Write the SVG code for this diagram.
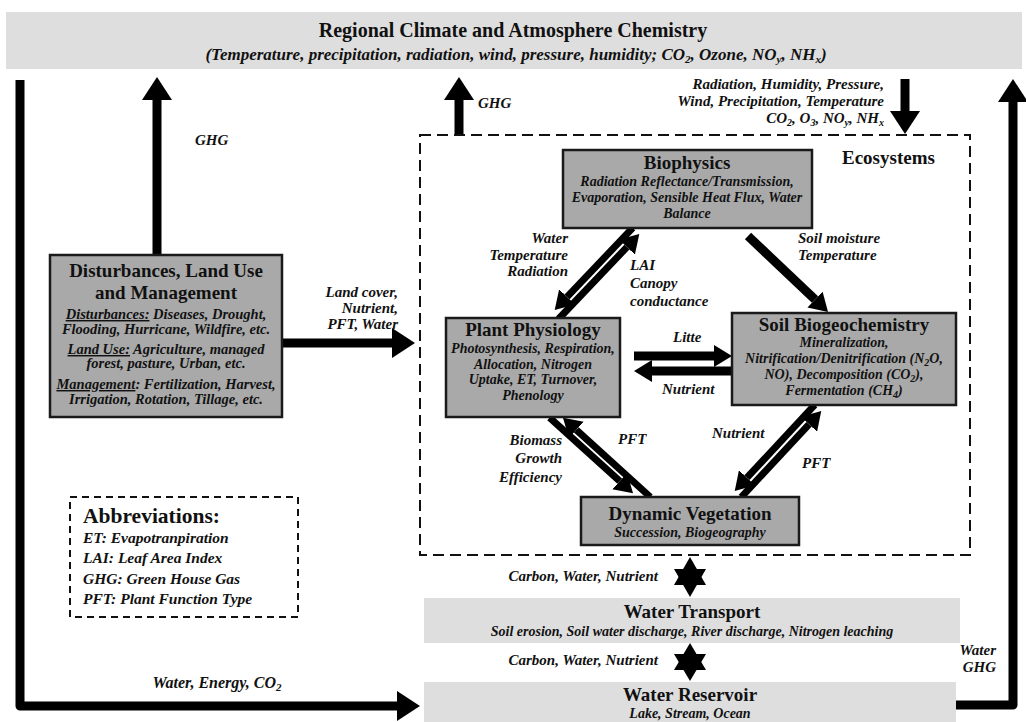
<svg xmlns="http://www.w3.org/2000/svg" width="1026" height="722" viewBox="0 0 1026 722" font-family="Liberation Serif, Times New Roman, Times, serif">
<style>
.t{font-weight:bold;fill:#111}
.i{font-style:italic}
.h{font-size:19px}
.b{font-size:14px}
.l{font-size:15px}
.box{fill:#a9a9a9;stroke:#1a1a1a;stroke-width:2.5}
.band{fill:#dedede}
.sh{stroke:#000;fill:none;stroke-width:9}
.sm{stroke:#000;fill:none;stroke-width:7}
.dash{fill:none;stroke:#111;stroke-width:2}
</style>
<defs>
<marker id="big" markerUnits="userSpaceOnUse" viewBox="0 -15 23 30" markerWidth="23" markerHeight="30" refX="0" refY="0" orient="auto"><path d="M0,-15L23,0L0,15z" fill="#000"/></marker>
<marker id="small" markerUnits="userSpaceOnUse" viewBox="0 -11 18 22" markerWidth="18" markerHeight="22" refX="0" refY="0" orient="auto"><path d="M0,-11L18,0L0,11z" fill="#000"/></marker>
</defs>
<rect width="1026" height="722" fill="#fff"/>

<g id="connectors">
<path class="sh" d="M20,80V706H397" stroke-linejoin="round" marker-end="url(#big)"/>
<path class="sh" d="M157,255V100" marker-end="url(#big)"/>
<path class="sh" d="M282,343H392" marker-end="url(#big)"/>
<path class="sh" d="M459,135V100" marker-end="url(#big)"/>
<path class="sh" d="M905,79V111" marker-end="url(#big)"/>
<path class="sh" d="M950,705H1013V102" stroke-linejoin="round" marker-end="url(#big)"/>
<path class="sh" d="M748,236L815,299.6" stroke-width="10" marker-end="url(#small)"/>
<path class="sm" d="M632.7,227.9L567.1,296.9" marker-end="url(#small)"/>
<path class="sm" d="M558.5,319L626.9,247.1" marker-end="url(#small)"/>
<path class="sm" d="M549.6,417.6L619.7,481.2" marker-end="url(#small)"/>
<path class="sm" d="M650.3,497L576.3,429.8" marker-end="url(#small)"/>
<path class="sm" d="M814.7,404.9L747,477.7" marker-end="url(#small)"/>
<path class="sm" d="M741.3,497.1L809,424.3" marker-end="url(#small)"/>
<path class="sh" d="M634,356H714" stroke-width="8" marker-end="url(#small)"/>
<path class="sh" d="M732,371H652" stroke-width="8" marker-end="url(#small)"/>
<polygon points="690,557 706,585 674,585" fill="#000"/>
<polygon points="690,597 706,569 674,569" fill="#000"/>
<polygon points="690,643 706,670 674,670" fill="#000"/>
<polygon points="690,681 706,654 674,654" fill="#000"/>
</g>

<g id="labels">
<text class="t i l" x="195" y="145">GHG</text>
<text class="t i l" x="478" y="108">GHG</text>
<g class="t i l" text-anchor="end">
<text x="884" y="89">Radiation, Humidity, Pressure,</text>
<text x="884" y="106">Wind, Precipitation, Temperature</text>
<text x="884" y="123">CO<tspan font-size="10" dy="3">2</tspan><tspan dy="-3">, O</tspan><tspan font-size="10" dy="3">3</tspan><tspan dy="-3">, NO</tspan><tspan font-size="10" dy="3">y</tspan><tspan dy="-3">, NH</tspan><tspan font-size="10" dy="3">x</tspan></text>
<text x="398" y="297">Land cover,</text>
<text x="398" y="313">Nutrient,</text>
<text x="398" y="329">PFT, Water</text>
<text x="568" y="243">Water</text>
<text x="568" y="260">Temperature</text>
<text x="568" y="276">Radiation</text>
<text x="562" y="445">Biomass</text>
<text x="562" y="463">Growth</text>
<text x="562" y="482">Efficiency</text>
<text x="658" y="581">Carbon, Water, Nutrient</text>
<text x="658" y="665">Carbon, Water, Nutrient</text>
<text x="996" y="655">Water</text>
<text x="996" y="672">GHG</text>
</g>
<g class="t i l">
<text x="630" y="270">LAI</text>
<text x="630" y="288">Canopy</text>
<text x="630" y="306">conductance</text>
<text x="798" y="243">Soil moisture</text>
<text x="798" y="260">Temperature</text>
<text x="673" y="342">Litte</text>
<text x="662" y="394">Nutrient</text>
<text x="618" y="444">PFT</text>
<text x="712" y="438">Nutrient</text>
<text x="802" y="468">PFT</text>
</g>
<text class="t i" font-size="16" x="217" y="688" text-anchor="middle">Water, Energy, CO<tspan font-size="11" dy="3">2</tspan></text>
</g>

<g id="climate">
<rect class="band" x="6" y="12" width="1016" height="57"/>
<text class="t" font-size="20" x="513" y="37" text-anchor="middle">Regional Climate and Atmosphere Chemistry</text>
<text class="t i" font-size="17" x="516" y="60" text-anchor="middle">(Temperature, precipitation, radiation, wind, pressure, humidity; CO<tspan font-size="11" dy="3">2</tspan><tspan dy="-3">, Ozone, NO</tspan><tspan font-size="11" dy="3">y</tspan><tspan dy="-3">, NH</tspan><tspan font-size="11" dy="3">x</tspan><tspan dy="-3">)</tspan></text>
</g>

<g id="ecosystems">
<rect class="dash" x="420" y="135" width="550" height="420" stroke-dasharray="11 6"/>
<text class="t" font-size="19" x="842" y="164">Ecosystems</text>
</g>

<g id="disturbances">
<rect class="box" x="50" y="255" width="232" height="162"/>
<text class="t" font-size="19" x="166" y="277" text-anchor="middle">Disturbances, Land Use</text>
<text class="t" font-size="19" x="166" y="299" text-anchor="middle">and Management</text>
<g class="t i" font-size="14.5" text-anchor="middle">
<text x="166" y="319"><tspan text-decoration="underline">Disturbances:</tspan> Diseases, Drought,</text>
<text x="166" y="334">Flooding, Hurricane, Wildfire, etc.</text>
<text x="166" y="354"><tspan text-decoration="underline">Land Use:</tspan> Agriculture, managed</text>
<text x="166" y="368">forest, pasture, Urban, etc.</text>
<text x="166" y="389"><tspan text-decoration="underline">Management</tspan>: Fertilization, Harvest,</text>
<text x="166" y="404">Irrigation, Rotation, Tillage, etc.</text>
</g>
</g>

<g id="biophysics">
<rect class="box" x="563" y="150" width="249" height="78"/>
<text class="t h" x="687" y="169" text-anchor="middle">Biophysics</text>
<g class="t i b" text-anchor="middle">
<text x="687" y="186">Radiation Reflectance/Transmission,</text>
<text x="687" y="202">Evaporation, Sensible Heat Flux, Water</text>
<text x="687" y="218">Balance</text>
</g>
</g>

<g id="plant-physiology">
<rect class="box" x="446" y="318" width="174" height="99"/>
<text class="t h" x="533" y="336" text-anchor="middle">Plant Physiology</text>
<g class="t i b" text-anchor="middle">
<text x="533" y="353">Photosynthesis, Respiration,</text>
<text x="533" y="369">Allocation, Nitrogen</text>
<text x="533" y="384">Uptake, ET, Turnover,</text>
<text x="533" y="400">Phenology</text>
</g>
</g>

<g id="soil-biogeochemistry">
<rect class="box" x="732" y="313" width="224" height="92"/>
<text class="t h" x="844" y="331" text-anchor="middle">Soil Biogeochemistry</text>
<g class="t i b" text-anchor="middle">
<text x="844" y="347">Mineralization,</text>
<text x="844" y="363">Nitrification/Denitrification (N<tspan font-size="10" dy="3">2</tspan><tspan dy="-3">O,</tspan></text>
<text x="844" y="379">NO), Decomposition (CO<tspan font-size="10" dy="3">2</tspan><tspan dy="-3">),</tspan></text>
<text x="844" y="395">Fermentation (CH<tspan font-size="10" dy="3">4</tspan><tspan dy="-3">)</tspan></text>
</g>
</g>

<g id="dynamic-vegetation">
<rect class="box" x="581" y="497" width="218" height="48"/>
<text class="t h" x="690" y="520" text-anchor="middle">Dynamic Vegetation</text>
<text class="t i b" x="690" y="537" text-anchor="middle">Succession, Biogeography</text>
</g>

<g id="water-transport">
<rect class="band" x="424" y="598" width="536" height="45"/>
<text class="t h" x="692" y="618" text-anchor="middle">Water Transport</text>
<text class="t i b" x="692" y="636" text-anchor="middle">Soil erosion, Soil water discharge, River discharge, Nitrogen leaching</text>
</g>

<g id="water-reservoir">
<rect class="band" x="424" y="682" width="532" height="40"/>
<text class="t h" x="690" y="701" text-anchor="middle">Water Reservoir</text>
<text class="t i b" x="690" y="718" text-anchor="middle">Lake, Stream, Ocean</text>
</g>

<g id="abbreviations">
<rect class="dash" x="70" y="497" width="228" height="120" stroke-dasharray="7 5"/>
<text class="t" font-size="21.5" x="83" y="523">Abbreviations:</text>
<g class="t i" font-size="15.5">
<text x="83" y="543">ET: Evapotranpiration</text>
<text x="83" y="563">LAI: Leaf Area Index</text>
<text x="83" y="584">GHG: Green House Gas</text>
<text x="83" y="604">PFT: Plant Function Type</text>
</g>
</g>
</svg>
